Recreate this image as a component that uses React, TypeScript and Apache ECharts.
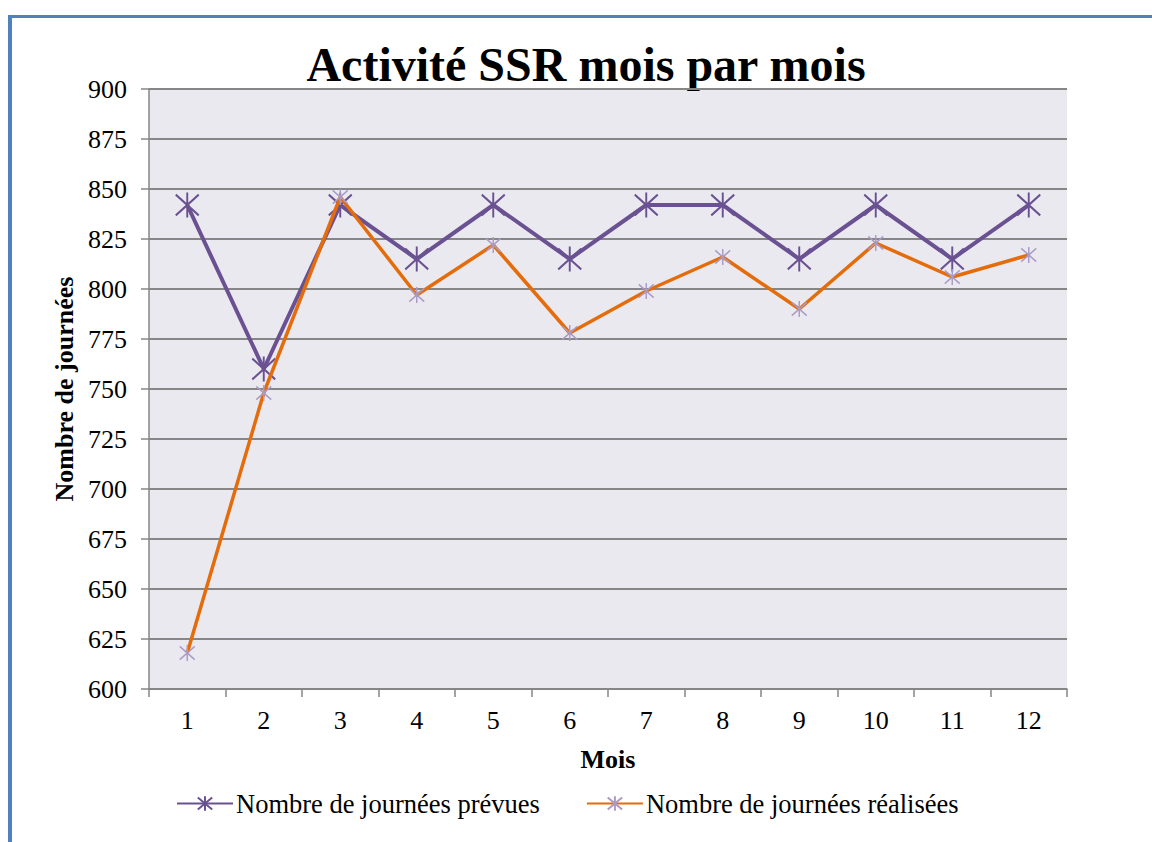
import React, { useEffect, useRef } from "react";
import * as echarts from "echarts";

const months = ["1", "2", "3", "4", "5", "6", "7", "8", "9", "10", "11", "12"];
const prevues = [842, 760, 842, 815, 842, 815, 842, 842, 815, 842, 815, 842];
const realisees = [618, 748, 846, 797, 822, 778, 799, 816, 790, 823, 806, 817];
const seriesNames = ["Nombre de journées prévues", "Nombre de journées réalisées"];
const titleText = "Activité SSR mois par mois";

const FONT = "'Liberation Serif', 'Times New Roman', serif";
const PURPLE = "#6A5292";
const ORANGE = "#E46C0A";
const LAVENDER = "#A99BC6";
const STAR = "path://M0,2L20,22M20,2L0,22M10,0L10,24";

export default function App() {
  const ref = useRef<HTMLDivElement>(null);
  useEffect(() => {
    if (!ref.current) return;
    const chart = echarts.init(ref.current, null, { renderer: "svg" });
    chart.setOption({
      animation: false,
      backgroundColor: "#ffffff",
      graphic: [
        { type: "rect", shape: { x: 8, y: 15, width: 1144, height: 3 }, style: { fill: "#4F81BD" } },
        { type: "rect", shape: { x: 8, y: 15, width: 4, height: 827 }, style: { fill: "#4F81BD" } },
        {
          type: "text",
          x: 586,
          y: 64,
          style: {
            text: titleText,
            font: `bold 48px ${FONT}`,
            fill: "#000",
            textAlign: "center",
            textVerticalAlign: "middle",
          },
        },
      ],
      grid: {
        left: 149,
        right: 85,
        top: 89,
        bottom: 153,
        show: true,
        backgroundColor: "#EBE9F0",
        borderWidth: 0,
      },
      legend: {
        left: 171,
        top: 785,
        itemWidth: 56,
        itemHeight: 18,
        itemGap: 46,
        textStyle: { fontFamily: FONT, fontSize: 26.5, color: "#000", padding: [0, 0, 0, -2] },
        data: seriesNames,
      },
      xAxis: {
        type: "category",
        data: months,
        boundaryGap: true,
        name: "Mois",
        nameLocation: "middle",
        nameGap: 57,
        nameTextStyle: { fontFamily: FONT, fontSize: 26, fontWeight: "bold", color: "#000" },
        axisLine: { lineStyle: { color: "#868686", width: 1.5 } },
        axisTick: { show: true, length: 8, lineStyle: { color: "#868686", width: 1.5 } },
        axisLabel: { fontFamily: FONT, fontSize: 26, color: "#000", margin: 18 },
        splitLine: { show: false },
      },
      yAxis: {
        type: "value",
        min: 600,
        max: 900,
        interval: 25,
        name: "Nombre de journées",
        nameLocation: "middle",
        nameGap: 84,
        nameRotate: 90,
        nameTextStyle: { fontFamily: FONT, fontSize: 26, fontWeight: "bold", color: "#000", verticalAlign: "middle" },
        axisLine: { show: true, lineStyle: { color: "#868686", width: 1.5 } },
        axisTick: { show: true, length: 8, lineStyle: { color: "#868686", width: 1.5 } },
        axisLabel: { fontFamily: FONT, fontSize: 26, color: "#000", margin: 22 },
        splitLine: { show: true, lineStyle: { color: "#868686", width: 2 } },
      },
      series: [
        {
          name: seriesNames[0],
          type: "line",
          data: prevues,
          symbol: STAR,
          symbolSize: [23, 25],
          lineStyle: { color: PURPLE, width: 4 },
          itemStyle: { color: PURPLE, borderColor: PURPLE, borderWidth: 2 },
          z: 2,
        },
        {
          name: seriesNames[1],
          type: "line",
          data: realisees,
          symbol: STAR,
          symbolSize: [15, 16],
          lineStyle: { color: ORANGE, width: 3.5 },
          itemStyle: { color: LAVENDER, borderColor: LAVENDER, borderWidth: 1.5 },
          z: 3,
        },
      ],
    });
    return () => chart.dispose();
  }, []);
  return (
    <div
      ref={ref}
      style={{ position: "fixed", left: 0, top: 0, width: 1152, height: 842 }}
    />
  );
}
